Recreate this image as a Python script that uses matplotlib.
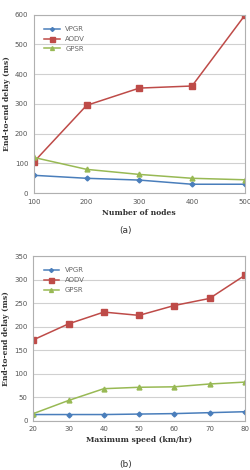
import matplotlib
matplotlib.use("Agg")
import matplotlib.pyplot as plt

nodes = [100, 200, 300, 400, 500]
vpgr_a = [60, 50, 44, 30, 30]
aodv_a = [105, 295, 353, 360, 597]
gpsr_a = [120, 80, 63, 50, 45]

speed = [20, 30, 40, 50, 60, 70, 80]
vpgr_b = [13, 13, 13, 14, 15, 17, 19]
aodv_b = [172, 206, 231, 224, 245, 260, 309]
gpsr_b = [15, 43, 68, 71, 72, 78, 82]

series_names = ["VPGR", "AODV", "GPSR"]
colors = ["#4a7ebb", "#be4b48", "#98b954"]
markers = ["D", "s", "^"]
msizes = [2.5, 4.5, 3.5]

fig = plt.figure(figsize=(2.51, 4.70), dpi=100)

def draw(ax, x, ys, ylim, yticks, xlabel):
    for y, name, c, m, ms in zip(ys, series_names, colors, markers, msizes):
        ax.plot(x, y, color=c, marker=m, markersize=ms, linewidth=1.1, label=name)
    ax.set_xlim(x[0], x[-1])
    ax.set_ylim(*ylim)
    ax.set_yticks(yticks)
    ax.set_xticks(x)
    ax.grid(axis="y", color="#d0d0d0", linewidth=0.8)
    ax.set_axisbelow(True)
    for s in ax.spines.values():
        s.set_color("#b0b0b0")
        s.set_linewidth(0.8)
    ax.tick_params(labelsize=5, colors="#555555", length=0, pad=4)
    ax.set_xlabel(xlabel, fontsize=5.5, fontweight="bold", family="DejaVu Serif", color="#333333", labelpad=3)
    ax.set_ylabel("End-to-end delay (ms)", fontsize=5.5, fontweight="bold", family="DejaVu Serif", color="#333333", labelpad=3)
    ax.legend(loc="upper left", frameon=False, fontsize=5, labelcolor="#666666",
              bbox_to_anchor=(0.02, 0.97), handlelength=2.2, labelspacing=0.55,
              markerscale=0.8)

ax1 = fig.add_axes([0.135, 0.589, 0.84, 0.38])
draw(ax1, nodes, [vpgr_a, aodv_a, gpsr_a], (0, 600), [0, 100, 200, 300, 400, 500, 600], "Number of nodes")
ax2 = fig.add_axes([0.133, 0.105, 0.842, 0.35])
draw(ax2, speed, [vpgr_b, aodv_b, gpsr_b], (0, 350), [0, 50, 100, 150, 200, 250, 300, 350], "Maximum speed (km/hr)")

fig.text(0.5, 1 - 231 / 470, "(a)", ha="center", va="center", fontsize=6.5, color="#333333")
fig.text(0.5, 1 - 465 / 470, "(b)", ha="center", va="center", fontsize=6.5, color="#333333")

fig.savefig("out.png", dpi=100)
